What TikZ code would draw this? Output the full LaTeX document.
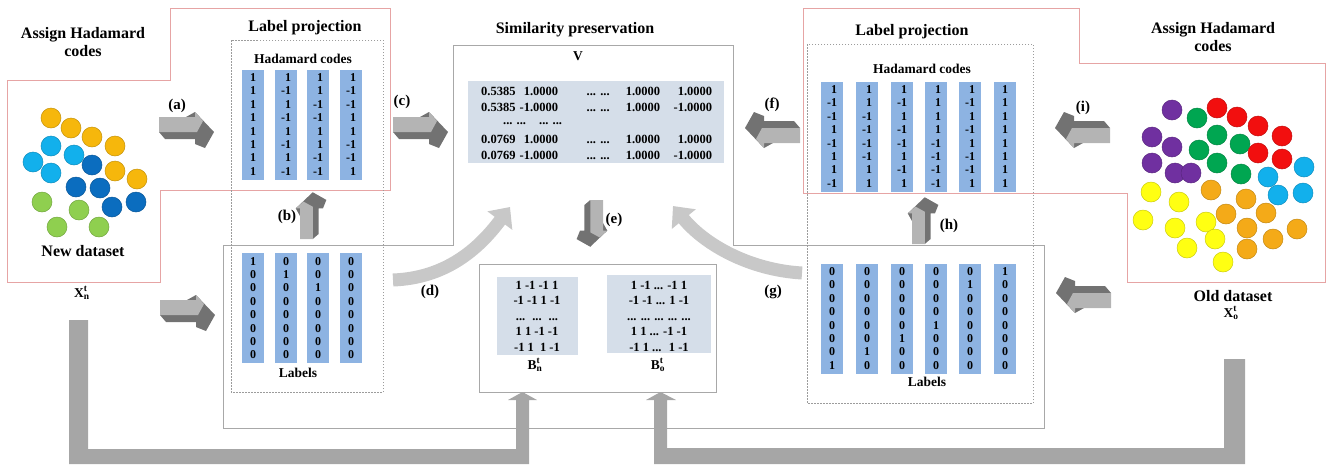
\documentclass[tikz,border=0pt]{standalone}
\usepackage{fontspec}
\setmainfont{Liberation Serif}
\usetikzlibrary{arrows.meta}

\definecolor{pinkline}{HTML}{E6A4A4}
\definecolor{frameline}{HTML}{A8A8A8}
\definecolor{dashline}{HTML}{9C9C9C}
\definecolor{colblue}{HTML}{8DB3E2}
\definecolor{matfill}{HTML}{D5DEE9}
\definecolor{arrlight}{HTML}{B4B4B4}
\definecolor{arrdark}{HTML}{727272}
\definecolor{curvegray}{HTML}{C8C8C8}
\definecolor{bargray}{HTML}{A6A6A6}
\definecolor{cOrange}{HTML}{F6B70C}
\definecolor{cOrangeB}{HTML}{F4AA18}
\definecolor{cLBlue}{HTML}{12B0EC}
\definecolor{cDBlue}{HTML}{0B6DBF}
\definecolor{cLGreen}{HTML}{8FCF4F}
\definecolor{cGreen}{HTML}{00A651}
\definecolor{cPurple}{HTML}{7030A0}
\definecolor{cRed}{HTML}{F20F0F}
\definecolor{cYellow}{HTML}{FFFF12}

\tikzset{
  title/.style={font=\bfseries\fontsize{16}{18.5}\selectfont, inner sep=0pt, align=center},
  subtitle/.style={font=\bfseries\fontsize{13.5}{15}\selectfont, inner sep=0pt},
  steplabel/.style={font=\bfseries\fontsize{15}{17}\selectfont, inner sep=0pt},
  hcol/.style={fill=colblue, minimum width=22pt, minimum height=110pt, inner sep=0pt,
    align=right, font=\bfseries\fontsize{12}{13.4}\selectfont},
  lcol/.style={hcol, align=center},
  matbox/.style={fill=matfill, inner sep=0pt},
  vtxt/.style={anchor=base west, inner sep=0pt, font=\bfseries\fontsize{12.5}{14}\selectfont},
  btxt/.style={inner sep=0pt, align=center, font=\bfseries\fontsize{12.5}{15.5}\selectfont},
  pinkpoly/.style={draw=pinkline, line width=1pt},
  framepoly/.style={draw=frameline, line width=1pt},
  dashbox/.style={draw=dashline, line width=0.8pt, dash pattern=on 1.5pt off 1.5pt},
  dot/.style={line width=0.5pt},
  curvearrow/.style={draw=curvegray, line width=13pt, -{Triangle[width=30pt,length=17pt]}},
  blockarrow/.pic={
    \fill[arrdark] (0,15) -- (6,22) -- (36,22) -- (36,27) -- (46,31) -- (55,15) -- (36,-5) -- cycle;
    \fill[arrlight] (0,0) -- (36,0) -- (36,-5) -- (44,4) -- (38,15) -- (0,15) -- cycle;
  }
}

\newcommand\dotcircle[2]{\filldraw[dot, fill=#1, draw=#1!80!black] (#2) circle (10);}

\begin{document}
\begin{tikzpicture}[x=1pt,y=-1pt]
\useasboundingbox (0,0) rectangle (1336,464);

% ---------- outlines ----------
\draw[pinkpoly] (170,8) -- (390,8) -- (390,190) -- (160,190) -- (160,282) -- (7,282) -- (7,80) -- (170,80) -- cycle;
\draw[pinkpoly] (803,8) -- (1079,8) -- (1079,63) -- (1325,63) -- (1325,282) -- (1127,282) -- (1127,193) -- (803,193) -- cycle;
\draw[framepoly] (223,245) -- (453,245) -- (453,45) -- (733,45) -- (733,245) -- (1044,245) -- (1044,428) -- (223,428) -- cycle;
\draw[dashbox] (231,40) rectangle (383,392);
\draw[dashbox] (807,44) rectangle (1033,403);

% ---------- titles ----------
\node[title] (tl1) at (83,42) {Assign Hadamard\\codes};
\node[title] (tl2) at (1213,37) {Assign Hadamard\\codes};
\node[title] (lp1) at (305,28) {Label projection};
\node[title] (lp2) at (912,32) {Label projection};
\node[title] (sp) at (575,30) {Similarity preservation};
\node[title] (nd) at (83,251) {New dataset};
\node[title] (od) at (1233,296) {Old dataset};
\node[subtitle] (xn) at (82,293) {\textbf{X}\rlap{\textsuperscript{t}}\textsubscript{n}};
\node[subtitle] (xo) at (1231,313) {\textbf{X}\rlap{\textsuperscript{t}}\textsubscript{o}};

% ---------- new dataset points ----------
\foreach \p in {{51,118},{71,128},{92,137},{115,146},{115,171},{137,179}} {\dotcircle{cOrange}{\p}}
\foreach \p in {{51,146},{33,162},{74,155},{51,173}} {\dotcircle{cLBlue}{\p}}
\foreach \p in {{92,165},{76,187},{100,188},{112,207},{136,202}} {\dotcircle{cDBlue}{\p}}
\foreach \p in {{42,202},{79,210},{57,227},{99,227}} {\dotcircle{cLGreen}{\p}}

% ---------- old dataset points ----------
\foreach \p in {{1172,110},{1152,137},{1172,147},{1152,163},{1175,173},{1191,173}} {\dotcircle{cPurple}{\p}}
\foreach \p in {{1197,118},{1217,135},{1199,150},{1240,144},{1217,163},{1241,174}} {\dotcircle{cGreen}{\p}}
\foreach \p in {{1217,108},{1237,117},{1258,126},{1282,136},{1258,153},{1282,159}} {\dotcircle{cRed}{\p}}
\foreach \p in {{1304,167},{1268,177},{1278,195},{1303,193}} {\dotcircle{cLBlue}{\p}}
\foreach \p in {{1151,192},{1179,202},{1143,220},{1175,228},{1206,222},{1187,248},{1215,239},{1223,262}} {\dotcircle{cYellow}{\p}}
\foreach \p in {{1211,190},{1246,199},{1226,214},{1266,213},{1247,228},{1297,229},{1273,239},{1247,249}} {\dotcircle{cOrangeB}{\p}}

% ---------- left label projection ----------
\node[subtitle] (hc1) at (303,59) {Hadamard codes};
\node[hcol] (h1a) at (253,124.5) {1\\1\\1\\1\\1\\1\\1\\1};
\node[hcol] (h1b) at (286,124.5) {1\\-1\\1\\-1\\1\\-1\\1\\-1};
\node[hcol] (h1c) at (318,124.5) {1\\1\\-1\\-1\\1\\1\\-1\\-1};
\node[hcol] (h1d) at (351,124.5) {1\\-1\\-1\\1\\1\\-1\\-1\\1};
\node[lcol] (l1a) at (253,308) {1\\0\\0\\0\\0\\0\\0\\0};
\node[lcol] (l1b) at (286,308) {0\\1\\0\\0\\0\\0\\0\\0};
\node[lcol] (l1c) at (318,308) {0\\0\\1\\0\\0\\0\\0\\0};
\node[lcol] (l1d) at (351,308) {0\\0\\0\\0\\0\\0\\0\\0};
\node[subtitle] (lb1) at (298,373) {Labels};

% ---------- right label projection ----------
\node[subtitle] (hc2) at (922,69) {Hadamard codes};
\node[hcol] (h2a) at (832,136.5) {1\\-1\\-1\\1\\-1\\1\\1\\-1};
\node[hcol] (h2b) at (867,136.5) {1\\1\\-1\\-1\\-1\\-1\\1\\1};
\node[hcol] (h2c) at (902,136.5) {1\\-1\\1\\-1\\-1\\1\\-1\\1};
\node[hcol] (h2d) at (936,136.5) {1\\1\\1\\1\\-1\\-1\\-1\\-1};
\node[hcol] (h2e) at (970,136.5) {1\\-1\\1\\-1\\1\\-1\\-1\\1};
\node[hcol] (h2f) at (1005,136.5) {1\\1\\1\\1\\1\\1\\1\\1};
\node[lcol] (l2a) at (832,318.5) {0\\0\\0\\0\\0\\0\\0\\1};
\node[lcol] (l2b) at (867,318.5) {0\\0\\0\\0\\0\\0\\1\\0};
\node[lcol] (l2c) at (902,318.5) {0\\0\\0\\0\\0\\1\\0\\0};
\node[lcol] (l2d) at (936,318.5) {0\\0\\0\\0\\1\\0\\0\\0};
\node[lcol] (l2e) at (970,318.5) {0\\1\\0\\0\\0\\0\\0\\0};
\node[lcol] (l2f) at (1005,318.5) {1\\0\\0\\0\\0\\0\\0\\0};
\node[subtitle] (lb2) at (927,382) {Labels};

% ---------- similarity matrix V ----------
\node[subtitle] (vlab) at (578,56) {V};
\node[matbox, minimum width=256pt, minimum height=82pt] (vmat) at (596,122) {};
\node[vtxt] (v1) at (481,95) {\makebox[38pt][l]{0.5385}\makebox[39pt][r]{1.0000}\makebox[80pt][c]{... ...}\makebox[22pt][r]{1.0000}\makebox[52pt][r]{1.0000}};
\node[vtxt] (v2) at (481,111) {\makebox[38pt][l]{0.5385}\makebox[39pt][r]{-1.0000}\makebox[80pt][c]{... ...}\makebox[22pt][r]{1.0000}\makebox[52pt][r]{-1.0000}};
\node[vtxt] (v3a) at (503,124) {... ...};
\node[vtxt] (v3b) at (539,124) {... ...};
\node[vtxt] (v4) at (481,143) {\makebox[38pt][l]{0.0769}\makebox[39pt][r]{1.0000}\makebox[80pt][c]{... ...}\makebox[22pt][r]{1.0000}\makebox[52pt][r]{1.0000}};
\node[vtxt] (v5) at (481,159) {\makebox[38pt][l]{0.0769}\makebox[39pt][r]{-1.0000}\makebox[80pt][c]{... ...}\makebox[22pt][r]{1.0000}\makebox[52pt][r]{-1.0000}};

% ---------- hash codes B ----------
\node[draw=frameline, fill=white, line width=0.8pt, minimum width=237pt, minimum height=128pt, inner sep=0pt] (bbox) at (597.5,328) {};
\node[matbox, minimum width=81pt, minimum height=78pt] (bn) at (537.5,316) {};
\node[matbox, minimum width=104pt, minimum height=78pt] (bo) at (659,314) {};
\node[btxt] (bntxt) at (537,316) {1 -1 -1 1\\-1 -1 1 -1\\...\hspace{7pt}...\hspace{7pt}...\\1 1 -1 -1\\-1 1 \ 1 -1};
\node[btxt] (botxt) at (659,316) {1 -1 ... -1 1\\-1 -1 ... 1 -1\\... ... ... ... ...\\1 1 ... -1 -1\\-1 1 ... \ 1 -1};
\node[subtitle] (bnl) at (535,365) {\textbf{B}\rlap{\textsuperscript{t}}\textsubscript{n}};
\node[subtitle] (bol) at (658,365) {\textbf{B}\rlap{\textsuperscript{t}}\textsubscript{o}};

% ---------- curved arrows (d), (g) ----------
\coordinate (dtail) at (393,280);
\coordinate (dtip) at (510,207);
\coordinate (gtail) at (802,273);
\coordinate (gtip) at (673,206);
\draw[curvearrow] (dtail) .. controls (445,278) and (478,250) .. (dtip);
\draw[curvearrow] (gtail) .. controls (750,270) and (705,245) .. (gtip);

% ---------- block arrows ----------
\pic at (159,117) {blockarrow};
\pic at (393,117) {blockarrow};
\pic at (160,300) {blockarrow};
\pic[rotate=180] at (800,143) {blockarrow};
\pic[rotate=180] at (1110,143) {blockarrow};
\pic[rotate=180] at (1111,308) {blockarrow};
\pic[rotate=90, scale=0.85] at (300,239) {blockarrow};
\pic[rotate=90, scale=0.85] at (912,244) {blockarrow};
\pic[rotate=-90, scale=0.85] at (603,200) {blockarrow};

% ---------- step labels ----------
\node[steplabel] (sa) at (177,106) {(a)};
\node[steplabel] (sb) at (287,217) {(b)};
\node[steplabel] (sc) at (402,102) {(c)};
\node[steplabel] (sd) at (430,292) {(d)};
\node[steplabel] (se) at (614,220) {(e)};
\node[steplabel] (sf) at (772,105) {(f)};
\node[steplabel] (sg) at (773,292) {(g)};
\node[steplabel] (sh) at (949,226) {(h)};
\node[steplabel] (si) at (1083,108) {(i)};

% ---------- feedback bars into B ----------
\fill[bargray] (69,320) -- (88,320) -- (88,449) -- (516,449) -- (516,400) -- (508,400)
  -- (522.5,392) -- (537,400) -- (529,400) -- (529,464) -- (69,464) -- cycle;
\fill[bargray] (1245,359) -- (1224,359) -- (1224,448) -- (667,448) -- (667,400) -- (676,400)
  -- (660.5,392) -- (646,400) -- (654,400) -- (654,464) -- (1245,464) -- cycle;
\end{tikzpicture}
\end{document}
